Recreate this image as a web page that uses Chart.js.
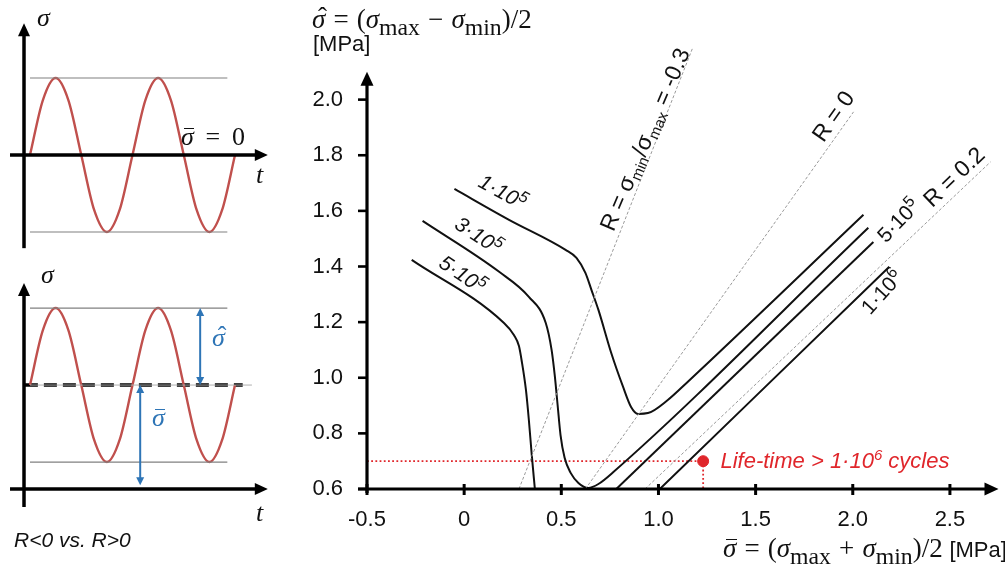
<!DOCTYPE html>
<html><head><meta charset="utf-8">
<script src="https://cdn.jsdelivr.net/npm/chart.js@4.4.1/dist/chart.umd.min.js"></script>
<style>
html,body{margin:0;padding:0;background:#fff;}
body{width:1005px;height:569px;overflow:hidden;position:relative;}
canvas{position:absolute;}
.lbl{position:absolute;white-space:nowrap;line-height:1;color:#111;}
.serif{font-family:"Liberation Serif","DejaVu Serif",serif;}
.sans{font-family:"Liberation Sans",Arial,sans-serif;}
.it{font-style:italic;}
.acc{position:relative;display:inline-block;}
.hat{position:absolute;left:0.22em;top:-0.08em;font-style:normal;}
.bar{position:absolute;left:0.12em;right:-0.02em;top:0.14em;border-top:1.6px solid currentColor;}
.sub{font-size:0.88em;position:relative;top:0.3em;font-style:normal;}
.op{margin:0 0.3em;}
</style></head><body>
<canvas id="cTop" width="290" height="260" style="left:0;top:0"></canvas>
<canvas id="cBot" width="290" height="309" style="left:0;top:260px"></canvas>
<canvas id="cMain" width="715" height="569" style="left:290px;top:0"></canvas>

<!-- left diagram labels -->
<div class="lbl serif it" style="left:37px;top:5px;font-size:26px">σ</div>
<div class="lbl serif" style="left:181px;top:124px;font-size:26px"><span class="acc it">σ<span class="bar"></span></span><span class="op" style="margin:0 0.45em">=</span>0</div>
<div class="lbl serif it" style="left:256px;top:162px;font-size:26px">t</div>
<div class="lbl serif it" style="left:41px;top:262px;font-size:26px">σ</div>
<div class="lbl serif it" style="left:256px;top:500px;font-size:26px">t</div>
<div class="lbl serif it" style="left:212px;top:325px;font-size:26px;color:#2e75b6"><span class="acc">σ<span class="hat">ˆ</span></span></div>
<div class="lbl serif it" style="left:152px;top:405px;font-size:26px;color:#2e75b6"><span class="acc">σ<span class="bar"></span></span></div>
<div class="lbl sans it" style="left:14px;top:529px;font-size:21px">R&lt;0 vs. R&gt;0</div>

<!-- main axis titles -->
<div class="lbl serif" style="left:312px;top:6px;font-size:27px"><span class="acc it">σ<span class="hat">ˆ</span></span><span class="op">=</span>(<span class="it">σ</span><span class="sub">max</span><span class="op">−</span><span class="it">σ</span><span class="sub">min</span>)/2</div>
<div class="lbl sans" style="left:313px;top:33px;font-size:22px">[MPa]</div>
<div class="lbl serif" style="left:723px;top:535px;font-size:27px"><span class="acc it">σ<span class="bar"></span></span><span class="op">=</span>(<span class="it">σ</span><span class="sub">max</span><span class="op">+</span><span class="it">σ</span><span class="sub">min</span>)/2 <span class="sans" style="font-size:22px">[MPa]</span></div>

<script>
// ---------- left diagrams data (time in half-periods, stress) ----------
const sineT      = [0,0.25,0.5,0.75,1,1.25,1.5,1.75,2,2.25,2.5,2.75,3,3.25,3.5,3.75,4];
const sineTop    = [0,0.71,1,0.71,0,-0.71,-1,-0.71,0,0.71,1,0.71,0,-0.71,-1,-0.71,0];
const sineBottom = [1.35,2.06,2.35,2.06,1.35,0.64,0.35,0.64,1.35,2.06,2.35,2.06,1.35,0.64,0.35,0.64,1.35];
const meanBottom = 1.35;
const ampTop = 1;

// ---------- main chart data ----------
const xTicks = [-0.5,0,0.5,1.0,1.5,2.0,2.5];
const yTicks = [0.6,0.8,1.0,1.2,1.4,1.6,1.8,2.0];

const c1e5X = [-0.05,0.231,0.522,0.578,0.624,0.655,0.691,0.757,0.818,0.859,0.895,0.946,1.048,1.15,2.055];
const c1e5Y = [1.679,1.568,1.460,1.431,1.377,1.316,1.244,1.089,0.967,0.895,0.870,0.873,0.920,0.985,1.586];

const c3e5X = [-0.214,0.180,0.333,0.420,0.450,0.466,0.481,0.496,0.517,0.548,0.588,0.639,0.691,0.768,2.080];
const c3e5Y = [1.564,1.381,1.291,1.197,1.100,1.010,0.902,0.794,0.712,0.658,0.622,0.604,0.618,0.661,1.539];

const c5e5LeftX = [-0.270,0.205,0.256,0.282,0.297,0.318,0.333,0.348,0.364];
const c5e5LeftY = [1.424,1.197,1.154,1.114,1.057,0.956,0.848,0.722,0.600];

const c5e5RightX = [0.783,2.106];
const c5e5RightY = [0.600,1.488];

const c1e6X = [1.007,2.188];
const c1e6Y = [0.600,1.399];

const rM03X = [0.282,1.176], rM03Y = [0.600,2.186];
const r0X   = [0.624,2.004], r0Y   = [0.600,1.956];
const r02X  = [0.931,2.709], r02Y  = [0.600,1.776];

const lifeX = 1.23, lifeY = 0.70;

function pts(xs, ys){ return xs.map((v,i)=>({x:v, y:ys[i]})); }

// ---------- helpers ----------
function arrowHead(ctx, tx, ty, dir, len, half){
  ctx.beginPath();
  if(dir==='up'){ ctx.moveTo(tx,ty); ctx.lineTo(tx-half,ty+len); ctx.lineTo(tx+half,ty+len); }
  else if(dir==='down'){ ctx.moveTo(tx,ty); ctx.lineTo(tx-half,ty-len); ctx.lineTo(tx+half,ty-len); }
  else { ctx.moveTo(tx,ty); ctx.lineTo(tx-len,ty-half); ctx.lineTo(tx-len,ty+half); }
  ctx.closePath(); ctx.fill();
}
const SANS = '"Liberation Sans", Arial, sans-serif';
function drawRich(ctx, cx, cy, ang, parts, size, opt){
  opt = opt || {};
  const st = opt.italic ? 'italic ' : '';
  const small = Math.round(size*(opt.smallRatio || 0.78));
  const fontOf = k => st + (k==='n' ? size : small) + 'px ' + SANS;
  ctx.save();
  ctx.translate(cx, cy); ctx.rotate(ang*Math.PI/180);
  let w = 0;
  parts.forEach(p=>{ ctx.font = fontOf(p[1]); w += ctx.measureText(p[0]).width; });
  let xx = opt.align==='left' ? 0 : -w/2;
  ctx.textBaseline = 'middle';
  ctx.fillStyle = opt.color || '#111';
  parts.forEach(p=>{
    ctx.font = fontOf(p[1]);
    const dy = p[1]==='sup' ? -size*0.3 : (p[1]==='sub' ? size*0.28 : 0);
    ctx.fillText(p[0], xx, dy);
    xx += ctx.measureText(p[0]).width;
  });
  ctx.restore();
}

// ---------- left charts ----------
function leftChart(id, cfg){
  const deco = {
    id:'leftDeco'+id,
    afterDatasetsDraw(chart){
      const {ctx, scales:{x,y}} = chart;
      const X=v=>x.getPixelForValue(v), Y=v=>y.getPixelForValue(v);
      ctx.save();
      ctx.strokeStyle='#000'; ctx.fillStyle='#000'; ctx.lineWidth=3.5;
      ctx.beginPath(); ctx.moveTo(X(cfg.yAxisT), Y(cfg.yAxisMin)); ctx.lineTo(X(cfg.yAxisT), Y(cfg.yAxisMax)+10); ctx.stroke();
      arrowHead(ctx, X(cfg.yAxisT), Y(cfg.yAxisMax), 'up', 13, 6);
      ctx.beginPath(); ctx.moveTo(X(-0.39), Y(0)); ctx.lineTo(X(4.64)-10, Y(0)); ctx.stroke();
      arrowHead(ctx, X(4.64), Y(0), 'right', 13, 6);
      if(cfg.arrows){
        ctx.strokeStyle='#2e75b6'; ctx.fillStyle='#2e75b6'; ctx.lineWidth=2;
        cfg.arrows.forEach(a=>{
          const ax=X(a.t), y1=Y(a.to), y2=Y(a.from);
          ctx.beginPath(); ctx.moveTo(ax, y1+6); ctx.lineTo(ax, y2-6); ctx.stroke();
          arrowHead(ctx, ax, y1, 'up', 8, 4);
          arrowHead(ctx, ax, y2, 'down', 8, 4);
        });
      }
      ctx.restore();
    }
  };
  const ds = [
    {data: pts([0,3.85],[cfg.hi,cfg.hi]), borderColor:'#808080', borderWidth:1.2, pointRadius:0, showLine:true},
    {data: pts([0,3.85],[cfg.lo,cfg.lo]), borderColor:'#808080', borderWidth:1.2, pointRadius:0, showLine:true},
  ];
  if(cfg.mean !== undefined){
    ds.push({data: pts([0,4.33],[cfg.mean,cfg.mean]), borderColor:'#b0b0b0', borderWidth:1, pointRadius:0, showLine:true});
  }
  ds.push({data: pts(sineT, cfg.sine), borderColor:'#c0504d', borderWidth:2.4, pointRadius:0, showLine:true, cubicInterpolationMode:'monotone'});
  if(cfg.mean !== undefined){
    ds.push({data: pts([-0.1,4.15],[cfg.mean,cfg.mean]), borderColor:'#000', borderWidth:3.5, borderDash:[13,6], pointRadius:0, showLine:true});
  }
  new Chart(document.getElementById(id), {
    type:'scatter',
    data:{datasets:ds},
    options:{
      responsive:false, animation:false, events:[],
      layout:{padding:{left:9.5,right:19.1,top:cfg.padTop,bottom:cfg.padBottom}},
      plugins:{legend:{display:false},tooltip:{enabled:false}},
      scales:{x:{type:'linear',display:false,min:-0.4,max:4.7},
              y:{type:'linear',display:false,min:cfg.ymin,max:cfg.ymax}}
    },
    plugins:[deco]
  });
}
leftChart('cTop', {sine:sineTop, hi:ampTop, lo:-ampTop, ymin:-1.3, ymax:1.8, padTop:16.4, padBottom:4.9,
  yAxisT:-0.117, yAxisMin:-1.21, yAxisMax:1.71});
leftChart('cBot', {sine:sineBottom, hi:meanBottom+1, lo:meanBottom-1, mean:meanBottom, ymin:-0.5, ymax:2.9, padTop:5.7, padBottom:41.5,
  yAxisT:-0.117, yAxisMin:-0.234, yAxisMax:2.675,
  arrows:[{t:3.32, from:meanBottom, to:meanBottom+1},{t:2.15, from:0.05, to:meanBottom}]});

// ---------- main chart ----------
const RED = '#e0262b';
const curveStyle = {borderColor:'#111', borderWidth:2, pointRadius:0, showLine:true, cubicInterpolationMode:'monotone'};
const refStyle = {borderColor:'#9a9a9a', borderWidth:1, borderDash:[3,2], pointRadius:0, showLine:true};

const mainDeco = {
  id:'mainDeco',
  afterDraw(chart){
    const {ctx, scales:{x,y}} = chart;
    const X=v=>x.getPixelForValue(v), Y=v=>y.getPixelForValue(v);
    ctx.save();
    ctx.strokeStyle='#000'; ctx.fillStyle='#000';
    const ax=X(-0.5), ay=Y(0.6);
    ctx.lineWidth=3.2;
    ctx.beginPath(); ctx.moveTo(ax, ay+4); ctx.lineTo(ax, Y(2.1)+10); ctx.stroke();
    arrowHead(ctx, ax, Y(2.1), 'up', 14, 6.5);
    ctx.beginPath(); ctx.moveTo(ax-9, ay); ctx.lineTo(chart.chartArea.right-10, ay); ctx.stroke();
    arrowHead(ctx, chart.chartArea.right, ay, 'right', 14, 6.5);
    ctx.lineWidth=2.6;
    yTicks.forEach(v=>{ ctx.beginPath(); ctx.moveTo(ax-9, Y(v)); ctx.lineTo(ax, Y(v)); ctx.stroke(); });
    ctx.lineWidth=3;
    xTicks.forEach(v=>{ ctx.beginPath(); ctx.moveTo(X(v), ay-5); ctx.lineTo(X(v), ay+6); ctx.stroke(); });

    drawRich(ctx, X(0.195), Y(1.664), 28.6, [['1·10','n'],['5','sup']], 21, {italic:true});
    drawRich(ctx, X(0.070), Y(1.508), 33, [['3·10','n'],['5','sup']], 21, {italic:true});
    drawRich(ctx, X(-0.012), Y(1.368), 34, [['5·10','n'],['5','sup']], 21, {italic:true});
    drawRich(ctx, X(2.24), Y(1.562), -46, [['5·10','n'],['5','sup']], 21);
    drawRich(ctx, X(2.155), Y(1.305), -48, [['1·10','n'],['6','sup']], 21);
    drawRich(ctx, X(0.936), Y(1.855), -67, [['R = σ','n'],['min','sub'],['/σ','n'],['max','sub'],[' = -0.3','n']], 23, {smallRatio:0.65});
    drawRich(ctx, X(1.905), Y(1.938), -55, [['R = 0','n']], 23);
    drawRich(ctx, X(2.525), Y(1.719), -44, [['R = 0.2','n']], 23);
    drawRich(ctx, X(1.319), Y(0.697), 0, [['Life-time > 1·10','n'],['6','sup'],[' cycles','n']], 22, {italic:true, align:'left', color:RED, smallRatio:0.68});
    ctx.restore();
  }
};

new Chart(document.getElementById('cMain'), {
  type:'scatter',
  data:{datasets:[
    {...refStyle, data:pts(rM03X, rM03Y)},
    {...refStyle, data:pts(r0X, r0Y)},
    {...refStyle, data:pts(r02X, r02Y)},
    {...curveStyle, data:pts(c1e5X, c1e5Y)},
    {...curveStyle, data:pts(c3e5X, c3e5Y)},
    {...curveStyle, data:pts(c5e5LeftX, c5e5LeftY)},
    {...curveStyle, data:pts(c5e5RightX, c5e5RightY)},
    {...curveStyle, data:pts(c1e6X, c1e6Y)},
    {data:pts([-0.5,lifeX],[lifeY,lifeY]), borderColor:RED, borderWidth:1.8, borderDash:[1.8,2.4], pointRadius:0, showLine:true},
    {data:pts([lifeX,lifeX],[lifeY,0.6]), borderColor:RED, borderWidth:1.8, borderDash:[1.8,2.4], pointRadius:0, showLine:true},
    {data:[{x:lifeX,y:lifeY}], pointRadius:5.5, backgroundColor:RED, borderColor:RED, showLine:false}
  ]},
  options:{
    responsive:false, animation:false, events:[],
    layout:{padding:{left:0,right:2,top:44,bottom:0}},
    plugins:{legend:{display:false},tooltip:{enabled:false}},
    scales:{
      x:{type:'linear', min:-0.5, max:2.75,
         grid:{display:false, drawTicks:false}, border:{display:false},
         afterBuildTicks:s=>{ s.ticks = xTicks.map(v=>({value:v})); },
         afterFit:s=>{ s.height = 80; },
         ticks:{padding:18, color:'#111', font:{family:SANS, size:22},
                callback:v=> v===0 ? '0' : v.toFixed(1)}},
      y:{type:'linear', min:0.6, max:2.2,
         grid:{display:false, drawTicks:false}, border:{display:false},
         afterBuildTicks:s=>{ s.ticks = yTicks.map(v=>({value:v})); },
         afterFit:s=>{ s.width = 77; },
         ticks:{padding:24, color:'#111', font:{family:SANS, size:22},
                callback:v=> v.toFixed(1)}}
    }
  },
  plugins:[mainDeco]
});
</script>
</body></html>
